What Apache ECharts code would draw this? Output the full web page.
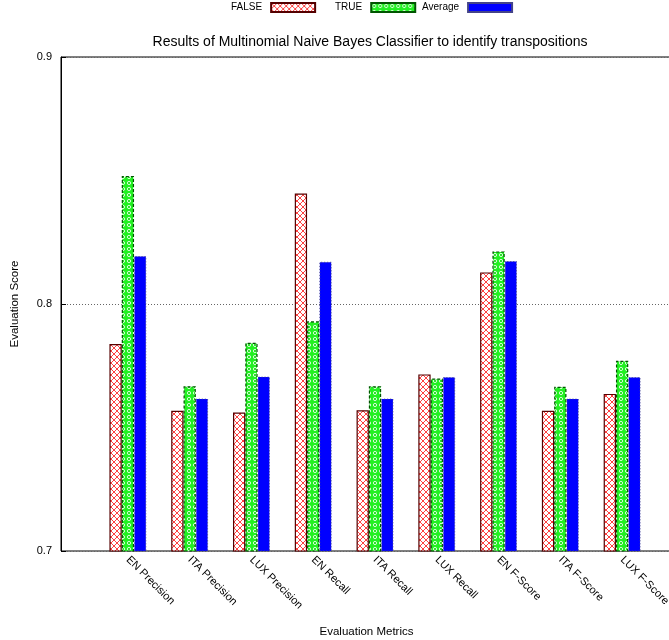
<!DOCTYPE html>
<html>
<head>
<meta charset="utf-8">
<script src="https://cdn.jsdelivr.net/npm/echarts@6/dist/echarts.min.js"></script>
<style>html,body{margin:0;padding:0;background:#fff}#c{width:669px;height:640px}</style>
</head>
<body>
<div id="c"></div>
<script>
const categories = ['EN Precision','ITA Precision','LUX Precision','EN Recall','ITA Recall','LUX Recall','EN F-Score','ITA F-Score','LUX F-Score'];
const falseValues = [0.7838, 0.7568, 0.7561, 0.8447, 0.7570, 0.7715, 0.8128, 0.7568, 0.7636];
const trueValues = [0.8518, 0.7667, 0.7843, 0.7930, 0.7667, 0.7698, 0.8213, 0.7665, 0.7770];
const averageValues = [0.8194, 0.7617, 0.7706, 0.8171, 0.7617, 0.7704, 0.8174, 0.7617, 0.7704];
const yTicks = [0.7, 0.8, 0.9];
const seriesNames = ['FALSE', 'TRUE', 'Average'];

function crossPattern() {
  const c = document.createElement('canvas'); c.width = 6; c.height = 6;
  const g = c.getContext('2d');
  g.fillStyle = '#ffffff'; g.fillRect(0,0,6,6);
  g.strokeStyle = '#ff2a2a'; g.lineWidth = 0.9;
  g.beginPath(); g.moveTo(0,0); g.lineTo(6,6); g.moveTo(6,0); g.lineTo(0,6); g.stroke();
  return {image: c, repeat: 'repeat'};
}
function dotPattern() {
  const c = document.createElement('canvas'); c.width = 6; c.height = 6;
  const g = c.getContext('2d');
  g.fillStyle = '#22f022'; g.fillRect(0,0,6,6);
  g.strokeStyle = '#d8ffd8'; g.lineWidth = 1;
  g.beginPath(); g.arc(3,3,1.6,0,Math.PI*2); g.stroke();
  g.fillStyle = '#11b011'; g.fillRect(2.5,2.5,1,1);
  return {image: c, repeat: 'repeat'};
}

const font = 'Liberation Sans, Arial, sans-serif';
const legendLefts = [231, 335, 422];
function legendFor(i) {
  return {
    left: legendLefts[i], top: 2, align: 'right', icon: 'rect', itemWidth: 44, itemHeight: 9, padding: 0,
    textStyle: {fontFamily: font, fontSize: 10, color: '#000', padding: [0, 4, 0, 0]},
    data: [seriesNames[i]]
  };
}

const chart = echarts.init(document.getElementById('c'), null, {renderer: 'canvas'});
chart.setOption({
  animation: false,
  textStyle: {fontFamily: font, color: '#000'},
  title: {
    text: 'Results of Multinomial Naive Bayes Classifier to identify transpositions',
    left: 365, top: 30, textAlign: 'center',
    textStyle: {fontFamily: font, fontSize: 14, fontWeight: 'normal', color: '#000'}
  },
  legend: [legendFor(0), legendFor(1), legendFor(2)],
  grid: [
    {left: 61, right: -3, top: 57, bottom: 89, show: true, borderColor: '#000', borderWidth: 1,
     backgroundColor: 'transparent', containLabel: false, outerBoundsMode: 'none'},
    {left: 97, width: 556, top: 57, bottom: 89, containLabel: false, outerBoundsMode: 'none'}
  ],
  xAxis: [
    {gridIndex: 0, type: 'value', min: 0, max: 1,
     axisLine: {show: false}, axisTick: {show: false}, axisLabel: {show: false}, splitLine: {show: false},
     name: 'Evaluation Metrics', nameLocation: 'middle', nameGap: 75,
     nameTextStyle: {fontFamily: font, fontSize: 11.5, color: '#000'}},
    {gridIndex: 1, type: 'category', data: categories,
     axisLine: {show: false}, axisTick: {show: false},
     axisLabel: {rotate: -45, fontFamily: font, fontSize: 11, color: '#000', margin: 7, interval: 0}}
  ],
  yAxis: [
    {gridIndex: 0, type: 'value', min: yTicks[0], max: yTicks[yTicks.length-1], interval: 0.1,
     axisLine: {show: true, lineStyle: {color: '#000'}},
     axisTick: {show: true, inside: true, length: 5, lineStyle: {color: '#000'}},
     axisLabel: {fontFamily: font, fontSize: 11, color: '#000', margin: 9, formatter: v => v.toFixed(1)},
     splitLine: {show: true, lineStyle: {color: '#666', type: [1,2], width: 1}},
     name: 'Evaluation Score', nameLocation: 'middle', nameGap: 40,
     nameTextStyle: {fontFamily: font, fontSize: 11.5, color: '#000'}},
    {gridIndex: 1, type: 'value', min: yTicks[0], max: yTicks[yTicks.length-1], show: false}
  ],
  series: [
    {name: seriesNames[0], type: 'bar', xAxisIndex: 1, yAxisIndex: 1, data: falseValues, barWidth: 12.3, barGap: '0%',
     itemStyle: {color: crossPattern(), borderColor: '#550000', borderWidth: 1.2}},
    {name: seriesNames[1], type: 'bar', xAxisIndex: 1, yAxisIndex: 1, data: trueValues, barWidth: 12.3, barGap: '0%',
     itemStyle: {color: dotPattern(), borderColor: '#005500', borderWidth: 1.2, borderType: [3,2]}},
    {name: seriesNames[2], type: 'bar', xAxisIndex: 1, yAxisIndex: 1, data: averageValues, barWidth: 12.3, barGap: '0%',
     itemStyle: {color: '#0000ff', borderColor: '#444488', borderWidth: 1, borderType: [1,2]}}
  ]
});
</script>
</body>
</html>
